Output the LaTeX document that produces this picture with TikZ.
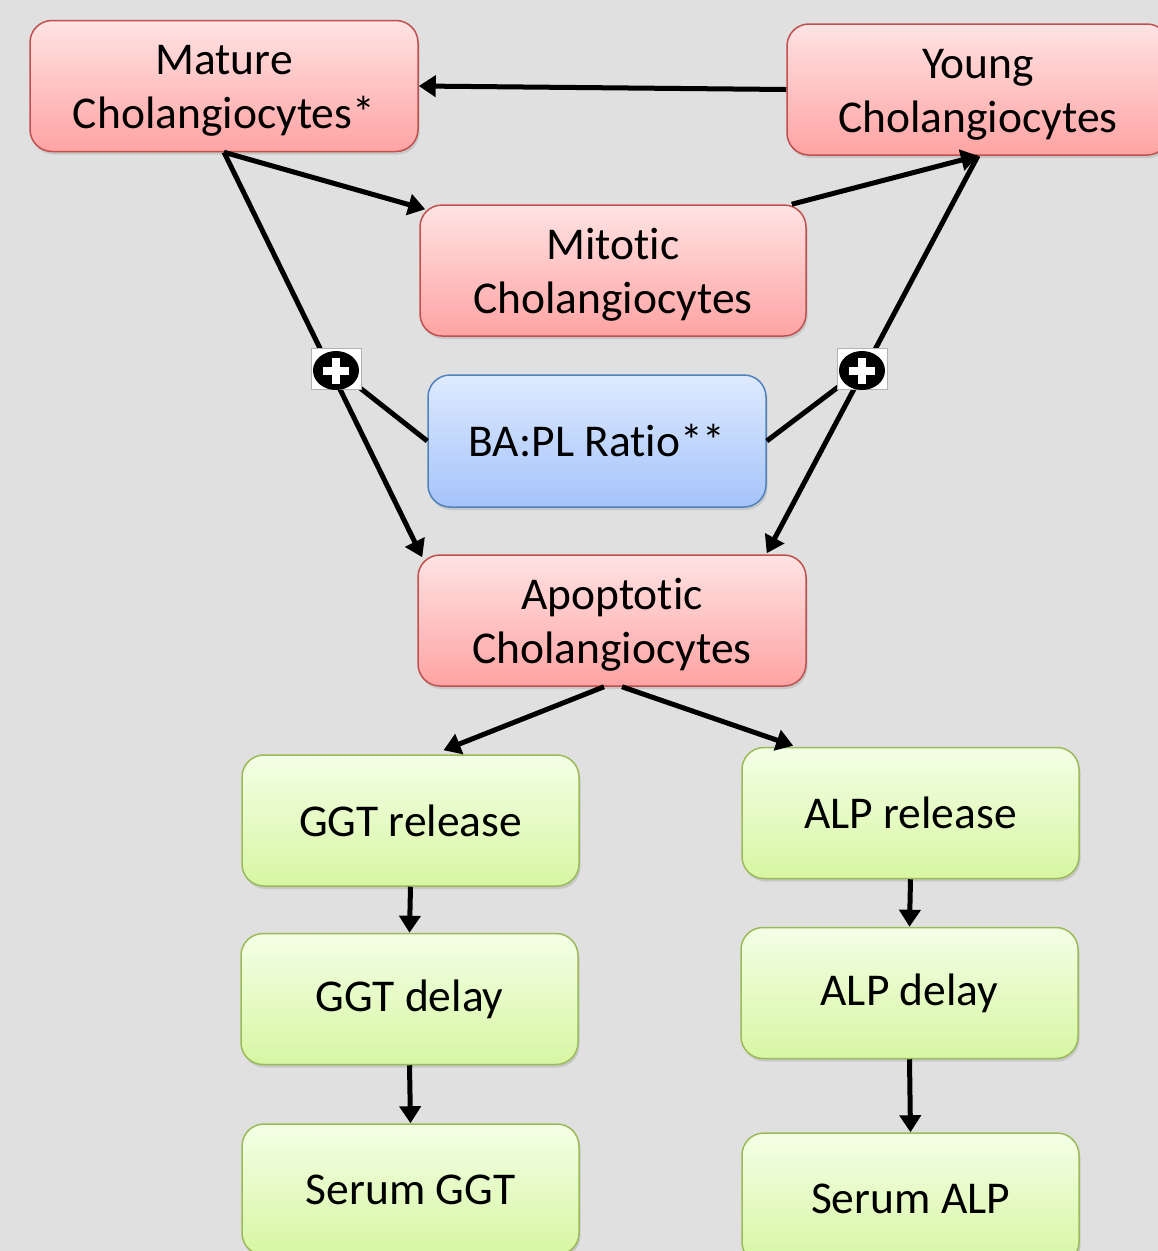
\documentclass[tikz,border=0pt]{standalone}
\usepackage{fontspec}
\setmainfont[Ligatures={NoCommon}]{Carlito}
\usetikzlibrary{shadows,arrows.meta,calc}
\definecolor{bg}{HTML}{E0E0E0}
\definecolor{redtop}{HTML}{FFE3E3}
\definecolor{redbot}{HTML}{FFA3A3}
\definecolor{redline}{HTML}{C0504D}
\definecolor{bluetop}{HTML}{DEEAFF}
\definecolor{bluebot}{HTML}{A5C3FA}
\definecolor{blueline}{HTML}{4F81BD}
\definecolor{greentop}{HTML}{F3FFE6}
\definecolor{greenbot}{HTML}{D8F6A3}
\definecolor{greenline}{HTML}{9BBB59}
\newcommand{\twolines}[2]{\begin{tabular}{@{}c@{}}\rule{0pt}{48pt}#1\\#2\end{tabular}}
\begin{document}
\begin{tikzpicture}[x=1pt,y=-1pt,
  box/.style={rounded corners=22pt, align=center, line width=1.5pt,
    font=\fontsize{45.5}{54}\selectfont, inner sep=0pt,
    drop shadow={opacity=0.25, shadow xshift=1.5pt, shadow yshift=-3pt}},
  redbox/.style={box, draw=redline, top color=redtop, bottom color=redbot,
    minimum width=388pt, minimum height=131pt},
  bluebox/.style={box, draw=blueline, top color=bluetop, bottom color=bluebot,
    minimum width=338pt, minimum height=132pt},
  greenbox/.style={box, draw=greenline, top color=greentop, bottom color=greenbot,
    minimum width=337pt, minimum height=131pt},
  conn/.style={line width=5pt, -{Triangle[length=17pt,width=21pt]}},
  link/.style={line width=5pt},
  plusbox/.style={draw=gray!60, line width=0.6pt, fill=white,
    minimum width=50pt, minimum height=41pt, inner sep=0pt}
]
\useasboundingbox (0,0) rectangle (1158,1251);
\fill[bg] (0,0) rectangle (1158,1251);

% nodes
\node[redbox] (mature) at (224,86) {\twolines{Mature}{Cholangiocytes*}};
\node[redbox, minimum width=382pt] (young) at (978,89.5) {\twolines{Young}{Cholangiocytes}};
\node[redbox, minimum width=386pt] (mitotic) at (613,270.5) {\twolines{Mitotic}{Cholangiocytes}};
\node[bluebox] (bapl) at (597,441) {BA:PL Ratio**};
\node[redbox] (apo) at (612,620.5) {\twolines{Apoptotic}{Cholangiocytes}};
\node[greenbox] (ggtr) at (410.5,820.5) {GGT release};
\node[greenbox] (alpr) at (910.5,813) {ALP release};
\node[greenbox] (ggtd) at (409.5,999) {GGT delay};
\node[greenbox] (alpd) at (909.5,993) {ALP delay};
\node[greenbox] (sggt) at (410.5,1189.5) {Serum GGT};
\node[greenbox] (salp) at (910.5,1198.5) {Serum ALP};

% connectors
\draw[conn] (young.west) -- (mature.east);
\draw[conn] (mature.south) -- ($(mitotic.north west)+(6,5)$);
\draw[conn] ($(mitotic.north east)+(-15,0)$) -- (young.south);
\draw[conn] (mature.south) -- ($(apo.north west)+(5,3)$);
\draw[conn] (young.south) -- ($(apo.north east)+(-40,-1)$);

\node[plusbox] (plusL) at (336,369) {};
\node[plusbox] (plusR) at (862,369) {};
\draw[link] (bapl.west) -- (plusL.center);
\draw[link] (bapl.east) -- (plusR.center);
\foreach \p in {plusL,plusR}{
  \fill[white, draw=gray!60, line width=0.6pt] ($(\p)+(-25,-20.5)$) rectangle ($(\p)+(25,20.5)$);
  \fill[black] ($(\p)+(0,1.5)$) ellipse [x radius=23pt, y radius=19.5pt];
  \fill[white] ($(\p)+(-13,-2.5)$) rectangle ($(\p)+(13,5.5)$);
  \fill[white] ($(\p)+(-4,-11.5)$) rectangle ($(\p)+(4,14.5)$);
}

\draw[conn] ($(apo.south)+(-8,0)$) -- ($(ggtr.north)+(33,-4)$);
\draw[conn] ($(apo.south)+(10,0)$) -- ($(alpr.north west)+(52,-1)$);
\draw[conn] (ggtr.south) -- (ggtd.north);
\draw[conn] (ggtd.south) -- (sggt.north);
\draw[conn] (alpr.south) -- (alpd.north);
\draw[conn] (alpd.south) -- (salp.north);
\end{tikzpicture}
\end{document}
